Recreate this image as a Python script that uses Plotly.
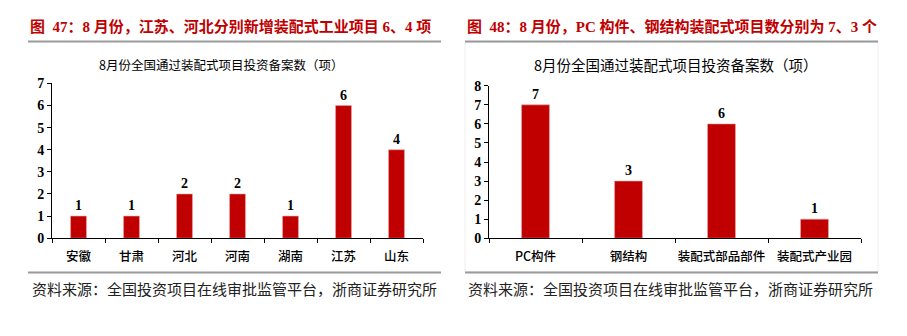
import plotly.graph_objects as go

# Figure 47: provinces
provinces = ["安徽", "甘肃", "河北", "河南", "湖南", "江苏", "山东"]
province_counts = [1, 1, 2, 2, 1, 6, 4]

# Figure 48: project types
types = ["PC构件", "钢结构", "装配式部品部件", "装配式产业园"]
type_counts = [7, 3, 6, 1]

title_left = "图  47：8 月份，江苏、河北分别新增装配式工业项目 6、4 项"
title_right = "图  48：8 月份，PC 构件、钢结构装配式项目数分别为 7、3 个"
chart_title = "8月份全国通过装配式项目投资备案数（项）"
source = "资料来源：全国投资项目在线审批监管平台，浙商证券研究所"

W, H = 907, 336
RED = "#C00000"
SERIF = "Liberation Serif, Noto Sans CJK SC"
CJK = "Noto Sans CJK SC"


def px(x):
    return x / W


def py(y):
    return 1 - y / H


fig = go.Figure()

fig.add_trace(go.Bar(
    x=provinces, y=province_counts, xaxis="x", yaxis="y",
    marker=dict(color=RED, line=dict(color="#e9a3a3", width=0.6)),
    text=[str(v) for v in province_counts], textposition="outside",
    textfont=dict(family=SERIF, size=14, color="black", weight="bold"),
    cliponaxis=False, width=0.3,
))
fig.add_trace(go.Bar(
    x=types, y=type_counts, xaxis="x2", yaxis="y2",
    marker=dict(color=RED, line=dict(color="#e9a3a3", width=0.6)),
    text=[str(v) for v in type_counts], textposition="outside",
    textfont=dict(family=SERIF, size=14, color="black", weight="bold"),
    cliponaxis=False, width=0.3,
))

bottom = py(242)
xaxis_common = dict(
    showline=True, linecolor="black", linewidth=1,
    ticks="outside", ticklen=4, tickcolor="black", tickson="boundaries",
    showgrid=False, zeroline=False, fixedrange=True, tickangle=0,
    ticklabelstandoff=7,
    tickfont=dict(family=CJK, size=12.5, color="black", weight=500),
)
yaxis_common = dict(
    showline=True, linecolor="black", linewidth=1,
    ticks="outside", ticklen=4, tickcolor="black",
    showgrid=False, zeroline=False, dtick=1,
    tickfont=dict(family=SERIF, size=14, color="black", weight="bold"),
)

fig.update_layout(
    width=W, height=H,
    margin=dict(l=0, r=0, t=0, b=0),
    paper_bgcolor="white", plot_bgcolor="white",
    showlegend=False,
    xaxis=dict(domain=[px(52), px(423)], anchor="y", **xaxis_common),
    yaxis=dict(domain=[bottom, py(80)], anchor="x", range=[0, 7], **yaxis_common),
    xaxis2=dict(domain=[px(489), px(861)], anchor="y2", **xaxis_common),
    yaxis2=dict(domain=[bottom, py(82.5)], anchor="x2", range=[0, 8], **yaxis_common),
)

shapes = []
# rule lines under the figure titles and above the source notes
for x0, x1 in [(28, 441), (465, 878)]:
    for yy in (36, 278):
        shapes.append(dict(type="line", xref="paper", yref="paper",
                           x0=px(x0), x1=px(x1), y0=py(yy), y1=py(yy),
                           line=dict(color="#9a9a9a", width=2)))
# faint frame around the right chart area
shapes.append(dict(type="rect", xref="paper", yref="paper",
                   x0=px(465), x1=px(878), y0=py(277), y1=py(37),
                   line=dict(color="#eeeeee", width=1), layer="below"))

annotations = [
    dict(text=title_left, x=px(28), y=py(20), xanchor="left", yanchor="middle",
         font=dict(family=SERIF, size=15, color=RED, weight="bold")),
    dict(text=title_right, x=px(465), y=py(20), xanchor="left", yanchor="middle",
         font=dict(family=SERIF, size=15, color=RED, weight="bold")),
    dict(text=chart_title, x=px(221), y=py(60), xanchor="center", yanchor="middle",
         font=dict(family=CJK, size=12.5, color="black")),
    dict(text=chart_title, x=px(676), y=py(60), xanchor="center", yanchor="middle",
         font=dict(family=CJK, size=14.5, color="black")),
    dict(text=source, x=px(30), y=py(295), xanchor="left", yanchor="middle",
         font=dict(family=CJK, size=15, color="#222222")),
    dict(text=source, x=px(466), y=py(295), xanchor="left", yanchor="middle",
         font=dict(family=CJK, size=15, color="#222222")),
]
for a in annotations:
    a.update(xref="paper", yref="paper", showarrow=False)

fig.update_layout(shapes=shapes, annotations=annotations)

fig.write_html("out.html")
